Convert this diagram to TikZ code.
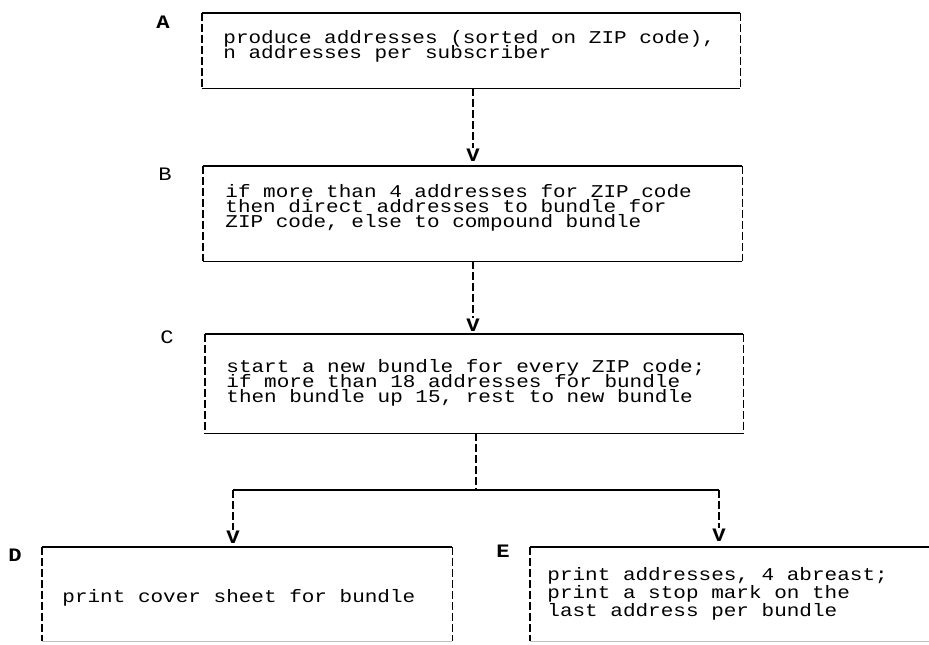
\documentclass[tikz,border=0pt]{standalone}
\usepackage{fontspec}
\setmonofont[FakeStretch=1.167]{Liberation Mono}
\usetikzlibrary{calc}

\tikzset{
  frame/.style={rectangle, inner sep=0pt, minimum width=#1},
  hline/.style={line width=0.9pt},
  vline/.style={line width=0.9pt, dash pattern=on 4pt off 1.5pt},
  txt/.style={font=\ttfamily\fontsize{9}{#1}\selectfont,
    execute at begin node={\lineskiplimit=-20pt\relax},
    align=left, anchor=west, inner sep=0pt},
  txt/.default=7.5,
  tag/.style={font=\ttfamily\fontsize{9.5}{12}\selectfont, inner sep=0pt},
  btag/.style={tag, font=\ttfamily\bfseries\fontsize{9.5}{12}\selectfont}
}

\begin{document}
\begin{tikzpicture}[x=0.5pt, y=-0.5pt]
  \useasboundingbox (0,0) rectangle (929,644);
  \clip (0,0) rectangle (929,644);

  % the five boxes
  \node[frame=269pt, minimum height=37.5pt] (A) at (471,50.5) {};
  \node[frame=269.5pt, minimum height=47.5pt] (B) at (472.5,213.5) {};
  \node[frame=269pt, minimum height=49.5pt] (C) at (474,383.5) {};
  \node[frame=205pt, minimum height=47pt] (D) at (247,594) {};
  \node[frame=215pt, minimum height=47pt] (E) at (745,594) {};

  \foreach \b in {A,B,C} {
    \draw[hline] (\b.north west) -- (\b.north east);
    \draw[hline] (\b.south west) -- (\b.south east);
  }
  \foreach \b in {A,B,C,D,E} {
    \draw[vline] (\b.north west) -- (\b.south west);
    \draw[vline] (\b.north east) -- (\b.south east);
  }
  \draw[hline] (D.north west) -- (D.north east);
  \draw[hline] (E.north west) -- (E.north east);
  \draw[hline, black!25] (D.south west) -- (D.south east);
  \draw[hline, black!25] (E.south west) -- (E.south east);

  % letters
  \node[btag] (labA) at (163,22) {A};
  \node[tag] (labB) at (165,174) {B};
  \node[tag] (labC) at (167,337) {C};
  \node[btag] (labD) at (15,555) {D};
  \node[btag] (labE) at (503,551) {E};

  % texts
  \node[txt] (tA) at (223,46) {produce addresses (sorted on ZIP code),\\ n addresses per subscriber};
  \node[txt] (tB) at (225,208) {if more than 4 addresses for ZIP code\\ then direct addresses to bundle for\\ ZIP code, else to compound bundle};
  \node[txt] (tC) at (226,383) {start a new bundle for every ZIP code;\\ if more than 18 addresses for bundle\\ then bundle up 15, rest to new bundle};
  \node[txt] (tD) at (62,598) {print cover sheet for bundle};
  \node[txt=9.1] (tE) at (547,594) {print addresses, 4 abreast;\\ print a stop mark on the\\ last address per bundle};

  % arrows
  \node[btag] (vB) at (473,155) {V};
  \node[btag] (vC) at (473,325) {V};
  \node[btag] (vD) at (233,537) {V};
  \node[btag] (vE) at (719,535) {V};
  \coordinate (split) at (476,490);

  \draw[vline] (vB.north |- A.south) -- (vB.north);
  \draw[vline] (vC.north |- B.south) -- (vC.north);
  \draw[vline] (split |- C.south) -- (split);
  \draw[hline] (vD |- split) -- (vE |- split);
  \draw[vline] (vD |- split) -- (vD.north);
  \draw[vline] (vE |- split) -- (vE.north);
\end{tikzpicture}
\end{document}
